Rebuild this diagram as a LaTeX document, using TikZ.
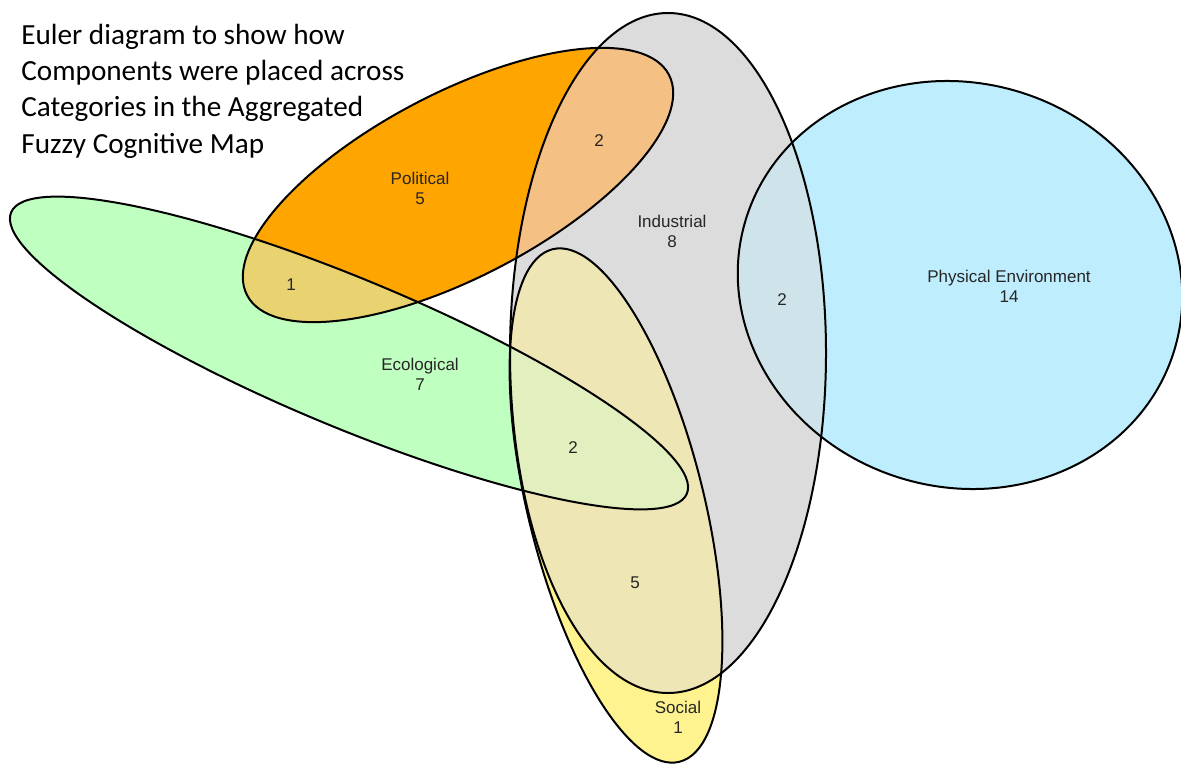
\documentclass[tikz,border=0pt]{standalone}
\usepackage{fontspec}
\setmainfont{Liberation Sans}
\newfontfamily\titlefont{Carlito}
\definecolor{cEco}{HTML}{BFFFC0}
\definecolor{cPol}{HTML}{FFA500}
\definecolor{cInd}{HTML}{DCDCDC}
\definecolor{cSoc}{HTML}{FFF38F}
\definecolor{cPE}{HTML}{BEEDFD}
\definecolor{cPolEco}{HTML}{E9D370}
\definecolor{cPolInd}{HTML}{F5C084}
\definecolor{cIndPE}{HTML}{CFE4EA}
\definecolor{cEcoInd}{HTML}{D2EED2}
\definecolor{cSocInd}{HTML}{EFE6B6}
\definecolor{cEcoSoc}{HTML}{E2EFBE}
\begin{document}
\begin{tikzpicture}[x=0.5pt,y=0.5pt,
  eco/.style={rotate around={-22.6:(349,-353)}, insert path={(349,-353) ellipse [x radius=366, y radius=74]}},
  pol/.style={rotate around={27.6:(458,-185)}, insert path={(458,-185) ellipse [x radius=238, y radius=92]}},
  ind/.style={insert path={(668,-353) ellipse [x radius=158, y radius=340]}},
  soc/.style={rotate around={13.9:(616,-505.5)}, insert path={(616,-505.5) ellipse [x radius=88, y radius=264]}},
  pe/.style={rotate around={-17:(960,-285)}, insert path={(960,-285) ellipse [x radius=224, y radius=202]}},
  outline/.style={draw=black, line width=1pt},
  lbl/.style={font=\fontsize{8.5}{10}\selectfont, text=black!85, align=center, inner sep=0pt},
  ttl/.style={font=\titlefont\fontsize{14.6}{18}\selectfont, anchor=base west, inner sep=0pt}
]
\useasboundingbox (0,0) rectangle (1181,-765);

% base fills of the five categories
\path[fill=cEco, eco];
\path[fill=cPol, pol];
\path[fill=cInd, ind];
\path[fill=cSoc, soc];
\path[fill=cPE, pe];

% overlaps
\begin{scope}\clip[pol]; \path[fill=cPolEco, eco];\end{scope}
\begin{scope}\clip[ind]; \path[fill=cPolInd, pol];\end{scope}
\begin{scope}\clip[ind]; \path[fill=cIndPE, pe];\end{scope}
\begin{scope}\clip[ind]; \path[fill=cEcoInd, eco];\end{scope}
\begin{scope}\clip[ind]; \path[fill=cSocInd, soc];\end{scope}
\begin{scope}\clip[soc]; \path[fill=cEcoSoc, eco];\end{scope}

% outlines
\path[outline, eco];
\path[outline, pol];
\path[outline, ind];
\path[outline, soc];
\path[outline, pe];

% category labels and counts
\node[lbl] (polL) at (420,-188) {Political\\5};
\node[lbl] (polInd) at (599,-141) {2};
\node[lbl] (polEco) at (291,-285) {1};
\node[lbl] (indL) at (672,-231) {Industrial\\8};
\node[lbl] (peL) at (1009,-286) {Physical Environment\\14};
\node[lbl] (indPE) at (782,-300) {2};
\node[lbl] (ecoL) at (420,-374) {Ecological\\7};
\node[lbl] (ecoSoc) at (573,-448) {2};
\node[lbl] (socInd) at (635,-583) {5};
\node[lbl] (socL) at (678,-717) {Social\\1};

% title
\node[ttl] (t1) at (21,-45) {Euler diagram to show how};
\node[ttl] (t2) at (21,-81) {Components were placed across};
\node[ttl] (t3) at (21,-117) {Categories in the Aggregated};
\node[ttl] (t4) at (21,-153) {Fuzzy Cognitive Map};
\end{tikzpicture}
\end{document}
